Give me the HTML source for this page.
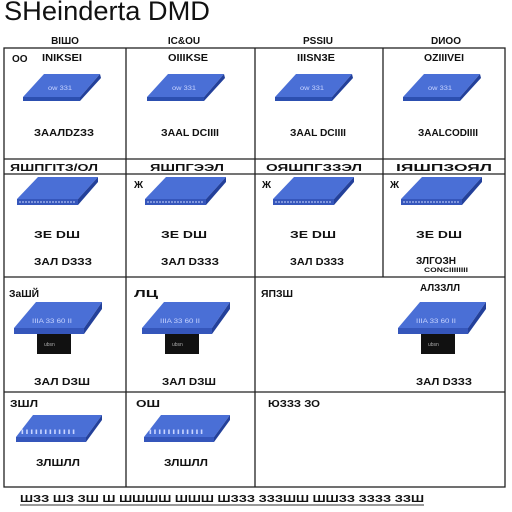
<!DOCTYPE html>
<html><head><meta charset="utf-8"><style>
html,body{margin:0;padding:0;background:#fff;width:512px;height:512px;overflow:hidden}
svg{display:block}
text{font-family:"Liberation Sans",sans-serif;fill:#111}
</style></head><body>
<svg width="512" height="512" viewBox="0 0 512 512" xmlns="http://www.w3.org/2000/svg">
<defs>
<g id="p1">
  <polygon points="44,74 100,74 80,97 23,97" fill="#4a6fd6"/>
  <polygon points="23,97 80,97 80,101 23,101" fill="#2c4fb0"/>
  <polygon points="100,74 101,78 80,101 80,97" fill="#23409a"/>
  <text x="48" y="90" font-size="6" style="fill:#c8d4ff" textLength="24" lengthAdjust="spacingAndGlyphs">ow 331</text>
</g>
<g id="p2">
  <polygon points="38,177 98,177 78,199 17,199" fill="#4a6fd6"/>
  <polygon points="17,199 78,199 78,205 17,205" fill="#3556bb"/>
  <line x1="19" y1="202" x2="76" y2="202" stroke="#c8d4ff" stroke-width="1" stroke-dasharray="2 1"/>
  <polygon points="98,177 98,182 78,205 78,199" fill="#23409a"/>
</g>
<g id="p3">
  <rect x="37" y="333" width="34" height="21" fill="#111"/>
  <text x="44" y="346" font-size="5" style="fill:#aaa">ubsn</text>
  <polygon points="36,302 102,302 84,328 14,328" fill="#4a6fd6"/>
  <polygon points="14,328 84,328 84,334 14,334" fill="#3556bb"/>
  <polygon points="102,302 102,309 84,334 84,328" fill="#23409a"/>
  <text x="32" y="323" font-size="6" style="fill:#c8d4ff" textLength="40" lengthAdjust="spacingAndGlyphs">IIIA 33 60 II</text>
</g>
<g id="p4">
  <polygon points="33,415 102,415 86,437 16,437" fill="#4a6fd6"/>
  <polygon points="16,437 86,437 86,442 16,442" fill="#3556bb"/>
  <polygon points="102,415 102,420 86,442 86,437" fill="#23409a"/>
  <text x="20" y="434" font-size="6" style="fill:#c8d4ff" textLength="56" lengthAdjust="spacingAndGlyphs">IIIIIIIIIIII</text>
</g>
</defs>
<text x="4" y="20" font-size="27" textLength="206" lengthAdjust="spacingAndGlyphs">SHeinderta DMD</text>
<g font-size="10" font-weight="bold" text-anchor="middle">
<text x="65" y="44">ВIШO</text><text x="184" y="44">IC&amp;OU</text><text x="318" y="44">PSSIU</text><text x="446" y="44">DИOO</text>
</g>
<g stroke="#222" stroke-width="1.3" fill="none">
<rect x="4" y="48" width="501" height="439"/>
<line x1="4" y1="159" x2="505" y2="159"/>
<line x1="4" y1="174" x2="505" y2="174"/>
<line x1="4" y1="277" x2="505" y2="277"/>
<line x1="4" y1="392" x2="505" y2="392"/>
<line x1="126" y1="48" x2="126" y2="487"/>
<line x1="255" y1="48" x2="255" y2="487"/>
<line x1="383" y1="48" x2="383" y2="277"/>
</g>
<use href="#p1"/><use href="#p1" x="124"/><use href="#p1" x="252"/><use href="#p1" x="380"/>
<use href="#p2"/><use href="#p2" x="128"/><use href="#p2" x="256"/><use href="#p2" x="384"/>
<use href="#p3"/><use href="#p3" x="128"/><use href="#p3" x="384"/>
<use href="#p4"/><use href="#p4" x="128"/>
<g font-size="10" font-weight="bold">
<text x="12" y="62">OO</text>
<text x="42" y="61" textLength="40" lengthAdjust="spacingAndGlyphs">INIKSEI</text>
<text x="168" y="61" textLength="40" lengthAdjust="spacingAndGlyphs">OIIIKSE</text>
<text x="297" y="61" textLength="38" lengthAdjust="spacingAndGlyphs">IIISN3E</text>
<text x="424" y="61" textLength="40" lengthAdjust="spacingAndGlyphs">OZIIIVEI</text>
<text x="34" y="136" textLength="60" lengthAdjust="spacingAndGlyphs">ЗААЛDZЗЗ</text>
<text x="161" y="136" textLength="58" lengthAdjust="spacingAndGlyphs">ЗААL DCIIII</text>
<text x="290" y="136" textLength="56" lengthAdjust="spacingAndGlyphs">ЗААL DCIIII</text>
<text x="418" y="136" textLength="60" lengthAdjust="spacingAndGlyphs">ЗААLCODIIII</text>
<text x="10" y="171" textLength="88" lengthAdjust="spacingAndGlyphs">ЯШПГIТЗ/ОЛ</text>
<text x="150" y="171" textLength="74" lengthAdjust="spacingAndGlyphs">ЯШПГЭЭЛ</text>
<text x="266" y="171" textLength="96" lengthAdjust="spacingAndGlyphs">ОЯШПГЗЗЭЛ</text>
<text x="396" y="171" textLength="96" lengthAdjust="spacingAndGlyphs">IЯШПЗОЯЛ</text>
<text x="134" y="188">Ж</text><text x="262" y="188">Ж</text><text x="390" y="188">Ж</text>
<text x="34" y="238" textLength="46" lengthAdjust="spacingAndGlyphs">ЗЕ DШ</text>
<text x="161" y="238" textLength="46" lengthAdjust="spacingAndGlyphs">ЗЕ DШ</text>
<text x="290" y="238" textLength="46" lengthAdjust="spacingAndGlyphs">ЗЕ DШ</text>
<text x="416" y="238" textLength="46" lengthAdjust="spacingAndGlyphs">ЗЕ DШ</text>
<text x="34" y="265" textLength="58" lengthAdjust="spacingAndGlyphs">ЗАЛ DЗЗЗ</text>
<text x="161" y="265" textLength="58" lengthAdjust="spacingAndGlyphs">ЗАЛ DЗЗЗ</text>
<text x="290" y="265" textLength="54" lengthAdjust="spacingAndGlyphs">ЗАЛ DЗЗЗ</text>
<text x="416" y="264" textLength="40" lengthAdjust="spacingAndGlyphs">ЗЛГОЗН</text>
<text x="424" y="272" font-size="6" textLength="44" lengthAdjust="spacingAndGlyphs">CONCIIIIIIII</text>
<text x="9" y="297" textLength="30" lengthAdjust="spacingAndGlyphs">ЗаШЙ</text>
<text x="134" y="297" textLength="24" lengthAdjust="spacingAndGlyphs">ЛЦ</text>
<text x="261" y="297" textLength="32" lengthAdjust="spacingAndGlyphs">ЯПЗШ</text>
<text x="420" y="291" textLength="40" lengthAdjust="spacingAndGlyphs">АЛЗЗЛЛ</text>
<text x="34" y="385" textLength="56" lengthAdjust="spacingAndGlyphs">ЗАЛ DЗШ</text>
<text x="162" y="385" textLength="54" lengthAdjust="spacingAndGlyphs">ЗАЛ DЗШ</text>
<text x="416" y="385" textLength="56" lengthAdjust="spacingAndGlyphs">ЗАЛ DЗЗЗ</text>
<text x="10" y="407" textLength="28" lengthAdjust="spacingAndGlyphs">ЗШЛ</text>
<text x="136" y="407" textLength="24" lengthAdjust="spacingAndGlyphs">ОШ</text>
<text x="268" y="407" textLength="52" lengthAdjust="spacingAndGlyphs">ЮЗЗЗ ЗО</text>
<text x="36" y="466" textLength="44" lengthAdjust="spacingAndGlyphs">ЗЛШЛЛ</text>
<text x="164" y="466" textLength="44" lengthAdjust="spacingAndGlyphs">ЗЛШЛЛ</text>
<text x="20" y="502" textLength="404" lengthAdjust="spacingAndGlyphs">ШЗЗ ШЗ ЗШ Ш ШШШШ ШШШ ШЗЗЗ ЗЗЗШШ ШШЗЗ ЗЗЗЗ ЗЗШ</text>
</g>
<line x1="20" y1="505" x2="424" y2="505" stroke="#333" stroke-width="1"/>
</svg>
</body></html>
